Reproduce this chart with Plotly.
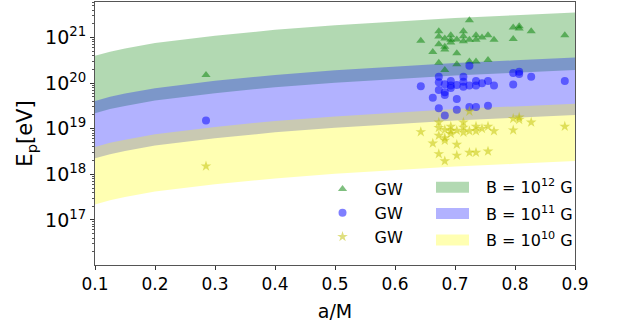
import numpy as np
import plotly.graph_objects as go

# ---- data ----
# band edges, log10(E_p / eV), sampled along a/M
band_a = [0.1, 0.125, 0.15, 0.2, 0.3, 0.4, 0.5, 0.6, 0.7, 0.8, 0.9]
b12_hi = [20.60, 20.69, 20.76, 20.88, 21.04, 21.17, 21.27, 21.35, 21.43, 21.49, 21.55]
b12_lo = [19.34, 19.43, 19.50, 19.62, 19.78, 19.91, 20.01, 20.09, 20.17, 20.23, 20.29]
b11_hi = [19.61, 19.70, 19.77, 19.89, 20.05, 20.18, 20.28, 20.36, 20.44, 20.50, 20.56]
b11_lo = [18.35, 18.44, 18.51, 18.63, 18.79, 18.92, 19.02, 19.10, 19.18, 19.24, 19.30]
b10_hi = [18.60, 18.69, 18.76, 18.88, 19.04, 19.17, 19.27, 19.35, 19.43, 19.49, 19.55]
b10_lo = [17.34, 17.43, 17.50, 17.62, 17.78, 17.91, 18.01, 18.09, 18.17, 18.23, 18.29]

# GW events: spin a/M
gw_a = [0.285, 0.643, 0.673, 0.673, 0.673, 0.663, 0.683, 0.683, 0.683, 0.693,
        0.693, 0.693, 0.703, 0.703, 0.714, 0.714, 0.714, 0.724, 0.724, 0.735,
        0.735, 0.745, 0.755, 0.765, 0.673, 0.683, 0.703, 0.724, 0.735, 0.755,
        0.797, 0.807, 0.807, 0.797, 0.827, 0.883]
# E_p [eV] for B = 1e12 G (triangles)
E_b12 = [1.51e20, 8.5e20, 1.38e21, 1.05e21, 7.1e20, 4.8e20, 9.5e20, 6.3e20, 5.5e20, 1.12e21,
         8.9e20, 7.8e20, 9.1e20, 4.5e20, 1.38e21, 1.07e21, 8.3e20, 2.4e21, 8.9e20, 1.12e21,
         8.9e20, 1.0e21, 1.12e21, 8.9e20, 2.8e20, 1.95e20, 2.6e20, 3.0e20, 3.0e20, 3.2e20,
         1.66e21, 1.78e21, 1.58e21, 9.3e20, 1.38e21, 1.12e21]
# E_p [eV] for B = 1e11 G (circles)
E_b11 = [1.51e19, 8.5e19, 1.38e20, 1.05e20, 7.1e19, 4.8e19, 9.5e19, 6.3e19, 5.5e19, 1.12e20,
         8.9e19, 7.8e19, 9.1e19, 4.5e19, 1.38e20, 1.07e20, 8.3e19, 2.4e20, 8.9e19, 1.12e20,
         8.9e19, 1.0e20, 1.12e20, 8.9e19, 2.8e19, 1.95e19, 2.6e19, 3.0e19, 3.0e19, 3.2e19,
         1.66e20, 1.78e20, 1.58e20, 9.3e19, 1.38e20, 1.12e20]
# E_p [eV] for B = 1e10 G (stars)
E_b10 = [1.51e18, 8.5e18, 1.38e19, 1.05e19, 7.1e18, 4.8e18, 9.5e18, 6.3e18, 5.5e18, 1.12e19,
         8.9e18, 7.8e18, 9.1e18, 4.5e18, 1.38e19, 1.07e19, 8.3e18, 2.4e19, 8.9e18, 1.12e19,
         8.9e18, 1.0e19, 1.12e19, 8.9e18, 2.8e18, 1.95e18, 2.6e18, 3.0e18, 3.0e18, 3.2e18,
         1.66e19, 1.78e19, 1.58e19, 9.3e18, 1.38e19, 1.12e19]

x_ticks = [0.1, 0.2, 0.3, 0.4, 0.5, 0.6, 0.7, 0.8, 0.9]
y_ticks = [1e17, 1e18, 1e19, 1e20, 1e21]
y_ticktext = ["10<sup>17</sup>", "10<sup>18</sup>", "10<sup>19</sup>",
              "10<sup>20</sup>", "10<sup>21</sup>"]
band_labels = ["B = 10<sup>12</sup> G", "B = 10<sup>11</sup> G", "B = 10<sup>10</sup> G"]
gw_label = "GW"

FONT = "DejaVu Sans"
fig = go.Figure()

band_cols = ["rgba(0,128,0,0.3)", "rgba(0,0,255,0.3)", "rgba(255,255,0,0.3)"]
bands = list(zip(band_labels, [b12_lo, b11_lo, b10_lo], [b12_hi, b11_hi, b10_hi], band_cols))
for name, lo, hi, col in bands:
    fig.add_trace(go.Scatter(x=band_a, y=[10.0 ** v for v in lo], mode="lines",
                             line=dict(width=0), showlegend=False, hoverinfo="skip"))
    fig.add_trace(go.Scatter(x=band_a, y=[10.0 ** v for v in hi], mode="lines",
                             line=dict(width=0), fill="tonexty", fillcolor=col,
                             name=name, showlegend=False))

series = [
    (E_b12, "triangle-up", "rgba(0,128,0,0.5)", 8, "p12"),
    (E_b11, "circle", "rgba(0,0,255,0.5)", 8, "p11"),
    (E_b10, "star", "rgba(191,191,0,0.5)", 8, "p10"),
]
for E, sym, col, sz, grp in series:
    fig.add_trace(go.Scatter(x=gw_a, y=E, mode="markers", name=gw_label,
                             marker=dict(symbol=sym, color=col, size=sz, line=dict(width=0)),
                             legendgroup=grp))

# band legend (patches + labels), positioned in paper coordinates
L, R, T, B = 95, 575, 2, 265
def px_x(p):
    return (p - L) / (R - L)
def px_y(p):
    return (B - p) / (B - T)

row_y = [186.7, 213.0, 239.5]
for i, (lab, col) in enumerate(zip(band_labels, band_cols)):
    yc = row_y[i] + 0.5
    fig.add_shape(type="rect", xref="paper", yref="paper",
                  x0=px_x(436), x1=px_x(469), y0=px_y(yc + 5.5), y1=px_y(yc - 5.5),
                  fillcolor=col, line=dict(width=0), layer="above")
    fig.add_annotation(xref="paper", yref="paper", x=px_x(484), y=px_y(row_y[i]),
                       text=lab, showarrow=False, xanchor="left", yanchor="middle",
                       font=dict(size=16, family=FONT, color="black"))

minor_vals = [float(m) * 10.0 ** k for k in range(16, 22) for m in range(2, 10)]

fig.update_layout(
    width=625, height=326,
    margin=dict(l=L, r=625 - R, t=T, b=326 - B),
    paper_bgcolor="white", plot_bgcolor="white",
    font=dict(family=FONT, size=16, color="black"),
    showlegend=True,
    legend=dict(x=0.449, y=0.353, xanchor="left", yanchor="top",
                bgcolor="rgba(0,0,0,0)", font=dict(size=16, family=FONT),
                itemwidth=54, tracegroupgap=0),
    xaxis=dict(range=[0.1, 0.9], tickvals=x_ticks, tickformat=".1f",
               ticks="outside", ticklen=4, tickcolor="#333", automargin=False,
               showline=True, linecolor="#555", linewidth=1, mirror=True,
               showgrid=False, zeroline=False,
               title=dict(text="a/M", font=dict(size=19, family=FONT), standoff=11),
               tickfont=dict(size=17, family=FONT)),
    yaxis=dict(type="log", range=[16.01, 21.78], tickvals=y_ticks, ticktext=y_ticktext,
               ticks="outside", ticklen=4, tickcolor="#333", automargin=False,
               minor=dict(tickvals=minor_vals, ticks="outside", ticklen=2, tickcolor="#555"),
               showline=True, linecolor="#555", linewidth=1, mirror=True,
               showgrid=False, zeroline=False,
               title=dict(text="E<sub>p</sub>[eV]", font=dict(size=21, family=FONT), standoff=6),
               tickfont=dict(size=19, family=FONT)),
)

fig.write_html("out.html", config={"displayModeBar": False},
               post_script="document.body.style.margin='0px';")
